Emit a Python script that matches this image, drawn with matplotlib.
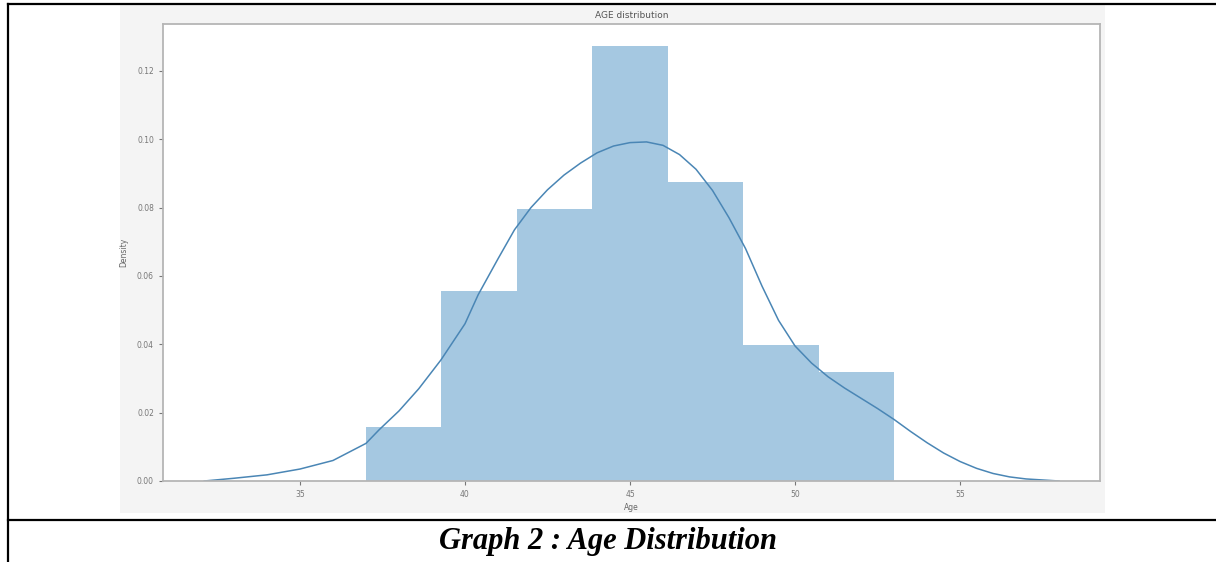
import matplotlib
matplotlib.use("Agg")
import matplotlib.pyplot as plt
from matplotlib.lines import Line2D
from matplotlib.patches import Rectangle

# histogram (density): 7 bins between 37 and 53
bin_edges = [37.0, 39.2857, 41.5714, 43.8571, 46.1429, 48.4286, 50.7143, 53.0]
bin_density = [0.0159, 0.0557, 0.0795, 0.1273, 0.0875, 0.0398, 0.0318]

# kde curve
kde_age = [32.1, 33.0, 34.0, 35.0, 36.0, 37.0, 37.4, 38.0, 38.6, 39.27, 40.0,
           40.4, 41.0, 41.5, 42.0, 42.5, 43.0, 43.5, 44.0, 44.5, 45.0, 45.5,
           46.0, 46.5, 47.0, 47.5, 48.0, 48.5, 49.0, 49.5, 50.0, 50.5, 51.0,
           51.5, 52.0, 52.5, 53.0, 53.5, 54.0, 54.5, 55.0, 55.5, 56.0, 56.5,
           57.0, 58.0]
kde_density = [0.0000, 0.0008, 0.0018, 0.0035, 0.0060, 0.0110, 0.0150, 0.0205,
               0.0270, 0.0354, 0.0460, 0.0545, 0.0650, 0.0735, 0.0800, 0.0852,
               0.0895, 0.0930, 0.0960, 0.0980, 0.0990, 0.0992, 0.0982, 0.0955,
               0.0912, 0.0850, 0.0770, 0.0680, 0.0570, 0.0470, 0.0395, 0.0345,
               0.0305, 0.0272, 0.0242, 0.0212, 0.0180, 0.0145, 0.0112, 0.0082,
               0.0057, 0.0037, 0.0022, 0.0012, 0.0006, 0.0000]

x_ticks = [35, 40, 45, 50, 55]
y_ticks = [0.00, 0.02, 0.04, 0.06, 0.08, 0.10, 0.12]

W, H = 1216, 562
fig = plt.figure(figsize=(W / 100, H / 100), dpi=100)
fig.patch.set_facecolor("white")


def fx(px):
    return px / W


def fy(py):
    return 1 - py / H


# grey background of the embedded chart image
fig.add_artist(Rectangle((fx(120), fy(513)), fx(985), 508 / H,
                         transform=fig.transFigure, facecolor="#f4f4f4",
                         edgecolor="none", zorder=0))

# document table lines
for x0, y0, x1, y1 in [(8, 4, W, 4), (8, 4, 8, H), (8, 520, W, 520)]:
    fig.add_artist(Line2D([fx(x0), fx(x1)], [fy(y0), fy(y1)],
                          transform=fig.transFigure, color="black", lw=1.6))

ax = fig.add_axes([fx(163), fy(481), fx(1100 - 163), (481 - 24) / H])
ax.set_facecolor("white")

widths = [b - a for a, b in zip(bin_edges[:-1], bin_edges[1:])]
ax.bar(bin_edges[:-1], bin_density, width=widths, align="edge",
       color="#1f77b4", alpha=0.4, linewidth=0)
ax.plot(kde_age, kde_density, color="#4a86b5", lw=1.1)

ax.set_xlim(30.85, 59.24)
ax.set_ylim(0, 0.1337)
ax.set_xticks(x_ticks)
ax.set_yticks(y_ticks)
ax.set_yticklabels([f"{v:.2f}" for v in y_ticks])
ax.tick_params(labelsize=5.5, colors="#777777", length=3, width=0.8)

for s in ax.spines.values():
    s.set_color("#b5b5b5")
    s.set_linewidth(1.3)

ax.set_title("AGE distribution", fontsize=6.5, color="#555555", pad=4)
ax.set_xlabel("Age", fontsize=5.5, color="#666666", labelpad=3)
ax.set_ylabel("Density", fontsize=5.5, color="#666666", labelpad=6)

fig.text(fx(608), fy(541), "Graph 2 : Age Distribution", ha="center",
         va="center", fontsize=22, fontweight="bold", fontstyle="italic",
         family="Liberation Serif")

fig.savefig("out.png", dpi=100)
